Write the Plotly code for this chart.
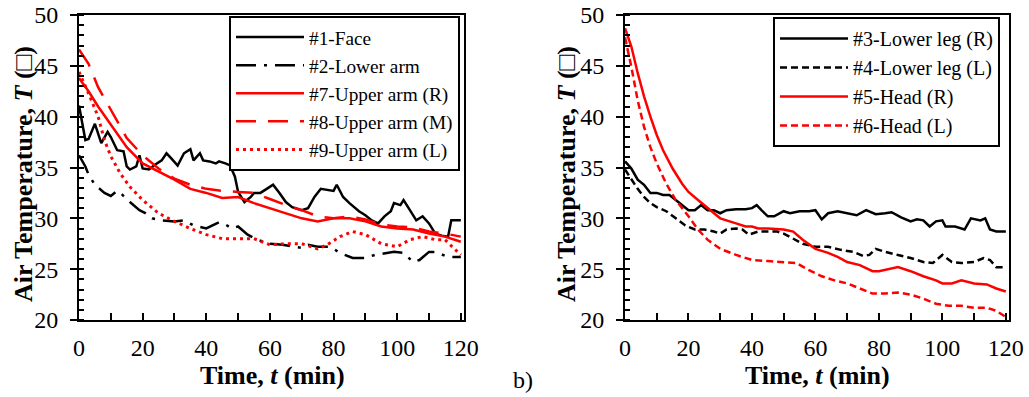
import plotly.graph_objects as go

# ---------------- data ----------------
# Left panel
face_t = [0, 2, 3, 5, 7, 9, 10, 12, 14, 15, 16, 18, 19, 20, 22, 24, 26, 27.5, 29, 31, 33, 35, 36, 38, 39, 41,
          43, 44, 46, 47.5, 49, 50, 52, 54, 55, 57, 59, 61, 63, 65, 67, 70, 72, 74, 76, 78, 80, 81, 83, 85, 88,
          90, 92, 94, 96, 98, 99, 101, 102, 104, 106, 108, 110, 112, 114, 116, 117, 120]
face_T = [41.1, 37.7, 37.8, 39.3, 37.4, 38.5, 38.0, 36.7, 36.6, 35.1, 34.8, 35.1, 36.2, 34.9, 34.8, 35.3, 35.7,
          36.4, 35.9, 35.2, 36.4, 36.8, 35.7, 36.4, 35.7, 35.6, 35.4, 35.6, 35.4, 35.2, 34.1, 32.6, 31.6, 32.1,
          32.5, 32.5, 32.9, 33.3, 32.5, 31.6, 31.1, 30.8, 31.0, 32.1, 32.9, 32.8, 32.7, 33.3, 32.1, 31.5, 30.7,
          30.3, 29.8, 29.5, 30.2, 30.7, 31.5, 31.3, 31.8, 30.8, 29.8, 30.2, 29.5, 28.5, 28.3, 28.2, 29.8, 29.8]

larm_t = [0, 1, 2, 3, 5, 8, 10, 12, 13, 16, 19, 21, 23, 26, 30, 33, 36, 40, 44, 46, 48, 50, 53, 56, 60, 64,
          68, 70, 72, 75, 79, 82, 86, 90, 93, 97, 99, 102, 105, 107, 110, 112, 116, 120]
larm_T = [36.2, 35.7, 35.1, 34.3, 33.3, 32.5, 32.2, 32.7, 32.5, 31.6, 30.8, 30.5, 30.0, 29.8, 29.7, 29.8, 29.3,
          29.0, 29.6, 29.4, 29.0, 29.2, 28.4, 27.9, 27.5, 27.4, 27.2, 27.1, 27.4, 27.2, 27.2, 26.6, 26.1, 26.1,
          26.4, 26.6, 26.7, 26.6, 25.7, 25.9, 26.7, 26.7, 26.2, 26.2]

uarm_t = [0, 3, 6, 10, 15, 20, 25, 30, 35, 40, 45, 50, 55, 60, 65, 70, 75, 80, 85, 90, 95, 100, 105, 110, 115, 120]
uarmR_T = [43.8, 42.5, 41.0, 39.2, 37.0, 35.4, 34.6, 33.8, 32.9, 32.5, 32.0, 32.1, 31.5, 31.0, 30.5, 30.0, 29.7,
           30.0, 30.0, 29.7, 29.2, 29.0, 28.9, 28.5, 28.2, 27.7]
uarmM_T = [46.6, 45.2, 42.9, 40.7, 37.9, 36.2, 34.9, 33.9, 33.3, 32.9, 32.7, 32.6, 32.5, 31.9, 31.3, 30.8, 30.2,
           30.0, 30.2, 29.9, 29.4, 29.2, 29.1, 28.7, 28.5, 28.2]

uarmL_t = [0, 3, 6, 8, 10, 13, 16, 20, 25, 30, 35, 40, 45, 50, 55, 60, 65, 70, 75, 78, 82, 86, 90, 95, 100, 104,
           108, 112, 115, 118, 120]
uarmL_T = [44.4, 42.3, 40.0, 37.7, 36.1, 34.4, 33.1, 31.8, 30.5, 29.7, 29.0, 28.4, 28.0, 28.0, 28.0, 27.4, 27.5,
           27.5, 27.0, 27.4, 28.2, 28.7, 28.4, 27.5, 27.2, 27.9, 28.2, 27.9, 27.9, 27.0, 26.4]

# Right panel
legR_t = [0, 2, 4, 6, 8, 10, 12, 14, 16, 18, 20, 22, 24, 26, 28, 30, 32, 35, 38, 40, 41.5, 43, 45, 47, 50, 52,
          55, 58, 60, 62, 64, 67, 70, 73, 76, 79, 82, 84, 87, 90, 92, 94, 96, 98, 100, 101, 104, 107, 109, 111,
          112, 113.5, 115, 117, 120]
legR_T = [35.6, 34.9, 33.8, 33.3, 32.5, 32.5, 32.3, 32.3, 31.8, 31.3, 30.8, 30.8, 31.3, 30.8, 30.8, 30.5, 30.8,
          30.9, 30.9, 31.0, 31.3, 30.8, 30.2, 30.2, 30.7, 30.5, 30.7, 30.7, 30.8, 29.9, 30.5, 30.7, 30.5, 30.3,
          30.8, 30.4, 30.5, 30.6, 30.1, 29.7, 29.9, 29.8, 29.2, 29.7, 29.8, 29.2, 29.2, 28.9, 30.0, 29.9, 29.8,
          30.0, 28.9, 28.7, 28.7]

legL_t = [0, 2, 4, 6, 8, 10, 13, 16, 19, 22, 25, 28, 30, 32, 35, 37, 39, 42, 45, 48, 50, 53, 56, 60, 64, 68, 72,
          75, 77, 79, 82, 86, 90, 94, 97, 100, 103, 106, 110, 113, 115, 117, 120]
legL_T = [34.8, 33.8, 32.9, 32.1, 31.5, 31.1, 30.7, 30.0, 29.3, 28.9, 28.9, 28.7, 28.5, 28.9, 29.0, 28.9, 28.4,
          28.7, 28.7, 28.7, 28.5, 28.0, 27.5, 27.2, 27.2, 26.9, 26.7, 26.3, 26.4, 27.0, 26.7, 26.4, 26.1, 25.7,
          25.6, 26.4, 25.7, 25.6, 25.7, 26.1, 25.9, 25.2, 25.2]

headR_t = [0, 2, 4, 6, 8, 10, 12, 15, 18, 20, 23, 26, 30, 35, 38, 40, 42, 45, 48, 50, 53, 56, 60, 64, 67, 70, 74,
           78, 80, 83, 86, 90, 94, 98, 100, 103, 106, 110, 114, 117, 120]
headR_T = [48.7, 46.9, 44.3, 42.0, 40.0, 38.2, 36.7, 34.9, 33.4, 32.6, 31.8, 31.0, 30.0, 29.5, 29.2, 29.2, 29.0,
           29.0, 28.9, 28.9, 28.7, 27.9, 27.0, 26.6, 26.2, 25.7, 25.4, 24.8, 24.8, 25.0, 25.2, 24.8, 24.3, 23.9,
           23.6, 23.6, 23.9, 23.6, 23.5, 23.1, 22.8]

headL_t = [0, 2, 4, 6, 8, 10, 13, 16, 20, 23, 26, 30, 35, 40, 45, 50, 54, 58, 62, 66, 70, 74, 78, 82, 86, 90, 94,
           98, 102, 106, 110, 114, 117, 120]
headL_T = [47.8, 44.9, 41.6, 39.0, 37.0, 35.4, 33.4, 31.8, 30.2, 28.9, 27.9, 27.0, 26.4, 25.9, 25.8, 25.7, 25.6,
           24.9, 24.3, 23.9, 23.6, 23.1, 22.6, 22.6, 22.7, 22.5, 22.1, 21.6, 21.4, 21.4, 21.2, 21.2, 20.9, 20.3]

x_ticks = [0, 20, 40, 60, 80, 100, 120]
y_ticks = [20, 25, 30, 35, 40, 45, 50]

RED = "#ff0000"
BLACK = "#000000"
FONT = "Liberation Serif"
LW = 2.5

fig = go.Figure()

left = [
    ("#1-Face", face_t, face_T, BLACK, "solid", LW),
    ("#2-Lower arm", larm_t, larm_T, BLACK, "20px,8px,3px,8px", LW),
    ("#7-Upper arm (R)", uarm_t, uarmR_T, RED, "solid", LW),
    ("#8-Upper arm (M)", uarm_t, uarmM_T, RED, "20px,12px", LW),
    ("#9-Upper arm (L)", uarmL_t, uarmL_T, RED, "3px,4px", 3),
]
for name, t, T, c, d, w in left:
    fig.add_trace(go.Scatter(x=t, y=T, name=name, mode="lines", xaxis="x", yaxis="y",
                             line=dict(color=c, width=w, dash=d), legend="legend"))

right = [
    ("#3-Lower leg (R)", legR_t, legR_T, BLACK, "solid"),
    ("#4-Lower leg (L)", legL_t, legL_T, BLACK, "7px,4px"),
    ("#5-Head (R)", headR_t, headR_T, RED, "solid"),
    ("#6-Head (L)", headL_t, headL_T, RED, "7px,4px"),
]
for name, t, T, c, d in right:
    fig.add_trace(go.Scatter(x=t, y=T, name=name, mode="lines", xaxis="x2", yaxis="y2",
                             line=dict(color=c, width=LW, dash=d), legend="legend2"))

xcommon = dict(range=[0, 121], tickvals=x_ticks, ticks="inside", ticklen=7, tickwidth=1.5, tickcolor="black",
               showline=True, linewidth=2, linecolor="black", mirror=True, showgrid=False, zeroline=False,
               tickfont=dict(family=FONT, size=24, color="black"), automargin=False,
               minor=dict(dtick=10, ticks="inside", ticklen=7, tickwidth=1.5, tickcolor="black"),
               ticklabelstandoff=5)
ycommon = dict(range=[20, 50], tickvals=y_ticks, ticks="outside", ticklen=7, tickwidth=1.5, tickcolor="black",
               showline=True, linewidth=2, linecolor="black", mirror=True, showgrid=False, zeroline=False,
               tickfont=dict(family=FONT, size=24, color="black"), automargin=False,
               minor=dict(dtick=1, ticks="inside", ticklen=5, tickwidth=1.5, tickcolor="black"),
               ticklabelstandoff=7)

W, H = 1029, 397
fig.update_layout(
    width=W, height=H, margin=dict(l=0, r=0, t=0, b=0),
    paper_bgcolor="white", plot_bgcolor="white",
    xaxis=dict(domain=[79 / W, 464 / W], anchor="y", **xcommon),
    yaxis=dict(domain=[1 - 320 / H, 1 - 15 / H], anchor="x", **ycommon),
    xaxis2=dict(domain=[625 / W, 1009 / W], anchor="y2", **xcommon),
    yaxis2=dict(domain=[1 - 320 / H, 1 - 15 / H], anchor="x2", **ycommon),
    legend=dict(x=229 / W, y=1 - 16 / H, xanchor="left", yanchor="top", bgcolor="white",
                bordercolor="black", borderwidth=2, font=dict(family=FONT, size=19.3, color="black"),
                itemwidth=68),
    legend2=dict(x=773 / W, y=1 - 17 / H, xanchor="left", yanchor="top", bgcolor="white",
                 bordercolor="black", borderwidth=2, font=dict(family=FONT, size=20, color="black"),
                 itemwidth=68),
    showlegend=True,
)

title_font = dict(family=FONT, size=26, color="black")
ann = dict(xref="paper", yref="paper", showarrow=False, xanchor="center", yanchor="middle")
fig.add_annotation(text="<b>Time, <i>t</i> (min)</b>", x=272 / W, y=1 - 375 / H, font=title_font, **ann)
fig.add_annotation(text="<b>Time, <i>t</i> (min)</b>", x=817 / W, y=1 - 375 / H, font=title_font, **ann)
fig.add_annotation(text="<b>Air Temperature, <i>T</i> (□)</b>", x=24 / W, y=1 - 174 / H, textangle=-90,
                   font=title_font, **ann)
fig.add_annotation(text="<b>Air Temperature, <i>T</i> (□)</b>", x=567 / W, y=1 - 174 / H, textangle=-90,
                   font=title_font, **ann)
fig.add_annotation(text="b)", x=523 / W, y=1 - 380 / H, font=dict(family=FONT, size=24, color="black"), **ann)

fig.write_html("out.html")
